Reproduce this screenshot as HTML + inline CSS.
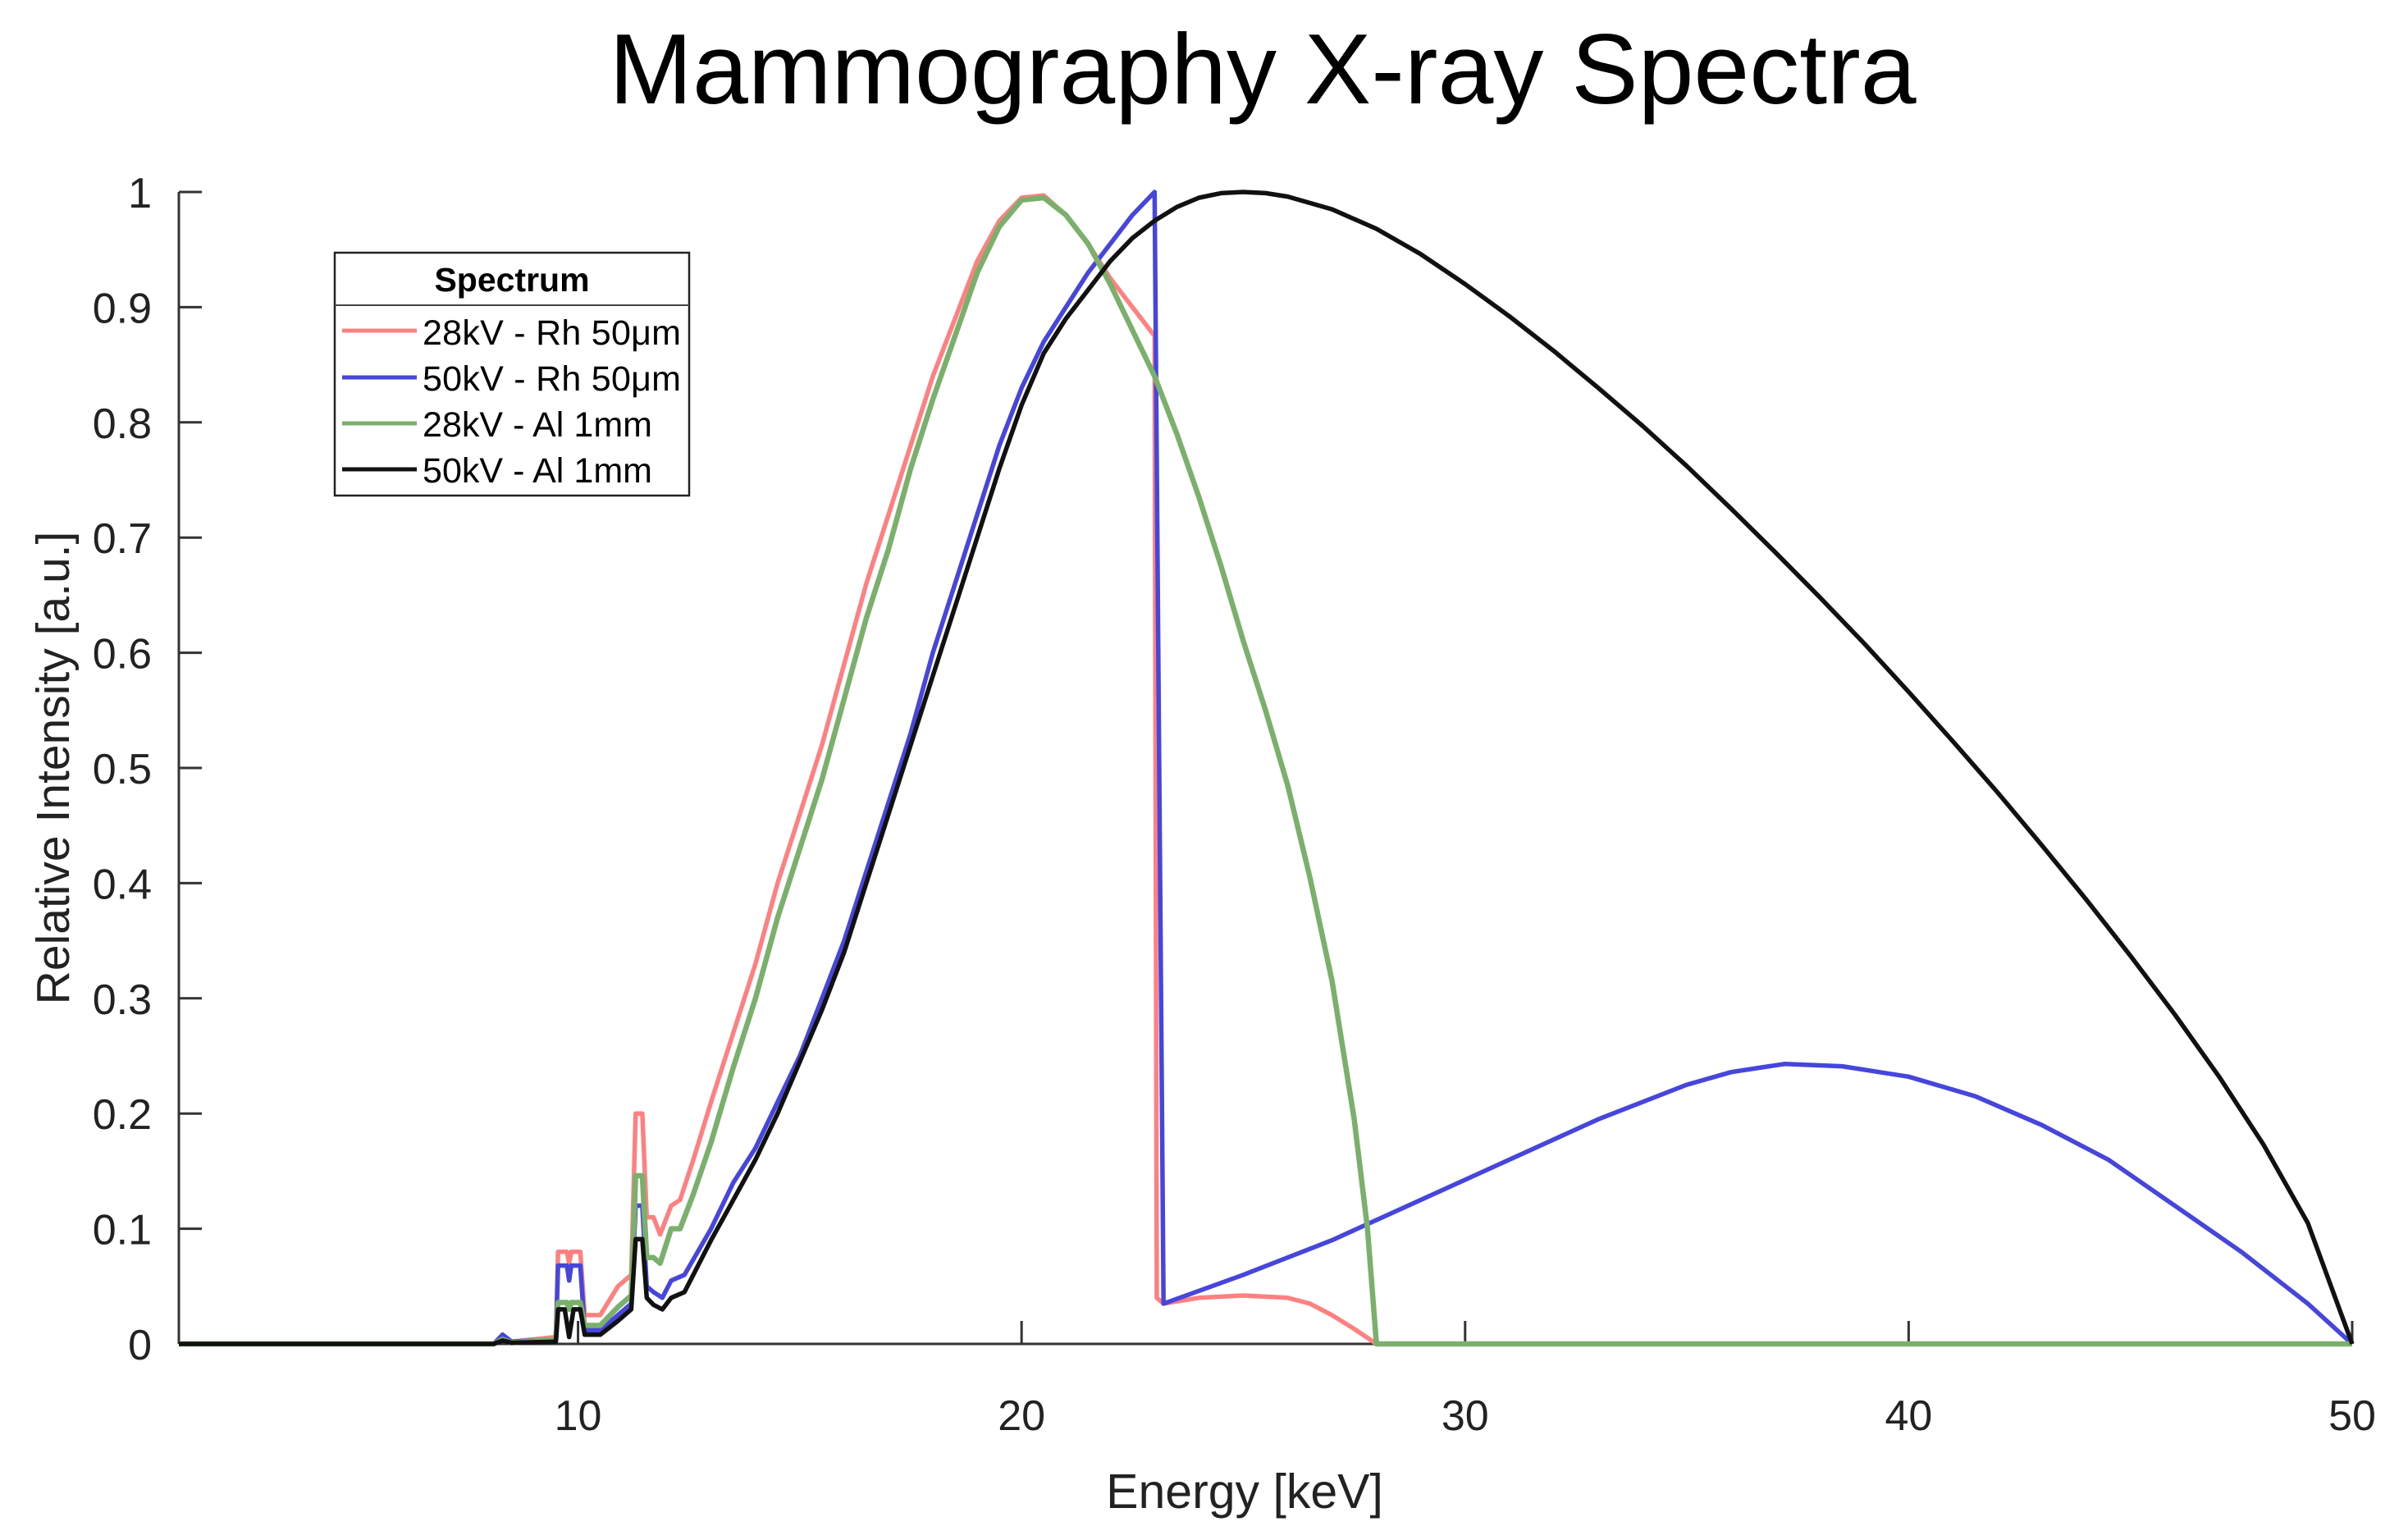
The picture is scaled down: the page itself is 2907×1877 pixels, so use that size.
<!DOCTYPE html>
<html><head><meta charset="utf-8"><style>
html,body{margin:0;padding:0;background:#fff;}
svg{display:block;font-family:"Liberation Sans",Arial,sans-serif;}
</style></head><body>
<svg id="chart" width="2907" height="1877" viewBox="0 0 2907 1877" xmlns="http://www.w3.org/2000/svg">
<text x="1539" y="126" font-size="122" text-anchor="middle" fill="#000">Mammography X-ray Spectra</text>
<g id="axes"></g>
<g id="series"></g>
<text x="1517" y="1838" font-size="59" text-anchor="middle" fill="#222">Energy [keV]</text>
<text transform="translate(84,936) rotate(-90)" font-size="57" text-anchor="middle" fill="#222">Relative Intensity [a.u.]</text>
<g>
<rect x="408" y="308" width="432" height="296" fill="#fff" stroke="#222" stroke-width="2.5"/>
<line x1="408" y1="372" x2="840" y2="372" stroke="#444" stroke-width="2"/>
<text x="624" y="355" font-size="41" font-weight="bold" text-anchor="middle">Spectrum</text>
<g><line x1="417" y1="403" x2="508" y2="403" stroke="#ff8080" stroke-width="5"/><text x="515" y="420" font-size="43" textLength="315">28kV - Rh 50μm</text></g>
<g><line x1="417" y1="460" x2="508" y2="460" stroke="#4646dc" stroke-width="5"/><text x="515" y="476" font-size="43" textLength="315">50kV - Rh 50μm</text></g>
<g><line x1="417" y1="516" x2="508" y2="516" stroke="#7ab06c" stroke-width="5"/><text x="515" y="532" font-size="43" textLength="280">28kV - Al 1mm</text></g>
<g><line x1="417" y1="572" x2="508" y2="572" stroke="#111" stroke-width="5"/><text x="515" y="588" font-size="43" textLength="280">50kV - Al 1mm</text></g>
</g>
</svg>
<script>
const xTicks = [10, 20, 30, 40, 50];
const yTicks = [0, 0.1, 0.2, 0.3, 0.4, 0.5, 0.6, 0.7, 0.8, 0.9, 1];
const yTickLabels = ["0","0.1","0.2","0.3","0.4","0.5","0.6","0.7","0.8","0.9","1"];

const redE = [1,8.1,8.3,8.5,9.5,9.55,9.75,9.8,9.85,10.05,10.15,10.5,10.9,11.2,11.3,11.45,11.55,11.7,11.85,12.1,12.3,12.6,13,13.5,14,14.5,15,15.5,16,16.5,17,17.5,18,18.5,19,19.5,20,20.5,21,21.5,22,22.5,23,23.05,23.2,24,25,26,26.5,27,27.5,28,50];
const redV = [0,0,0.008,0.002,0.006,0.08,0.08,0.07,0.08,0.08,0.025,0.025,0.05,0.06,0.2,0.2,0.11,0.11,0.095,0.12,0.125,0.16,0.21,0.27,0.33,0.4,0.46,0.52,0.59,0.66,0.72,0.78,0.84,0.89,0.94,0.975,0.995,0.997,0.98,0.955,0.925,0.9,0.875,0.04,0.035,0.04,0.042,0.04,0.035,0.025,0.013,0,0];

const blueE = [1,8.1,8.3,8.5,9.5,9.55,9.75,9.8,9.85,10.05,10.15,10.5,10.9,11.2,11.3,11.45,11.55,11.7,11.9,12.1,12.4,13,13.5,14,14.5,15,15.5,16,16.5,17,17.5,18,18.5,19,19.5,20,20.5,21,21.5,22,22.5,23,23.2,25,27,29,31,33,35,36,37.2,38.5,40,41.5,43,44.5,46,47.5,49,50];
const blueV = [0,0,0.008,0.002,0.004,0.068,0.068,0.055,0.068,0.068,0.012,0.012,0.025,0.035,0.12,0.12,0.05,0.045,0.04,0.055,0.06,0.1,0.14,0.17,0.21,0.25,0.3,0.35,0.41,0.47,0.53,0.6,0.66,0.72,0.78,0.83,0.87,0.9,0.93,0.955,0.98,1.0,0.035,0.06,0.09,0.125,0.16,0.195,0.225,0.236,0.243,0.241,0.232,0.215,0.19,0.16,0.12,0.08,0.035,0];

const greenE = [1,8.1,8.3,8.5,9.5,9.55,9.75,9.8,9.85,10.05,10.15,10.5,10.9,11.2,11.3,11.45,11.55,11.7,11.85,12.1,12.3,12.6,13,13.5,14,14.5,15,15.5,16,16.5,17,17.5,18,18.5,19,19.5,20,20.5,21,21.5,22,22.5,23,23.5,24,24.5,25,25.5,26,26.5,27,27.5,27.8,28,50];
const greenV = [0,0,0.004,0.001,0.004,0.036,0.036,0.03,0.036,0.036,0.016,0.016,0.032,0.042,0.146,0.146,0.075,0.075,0.07,0.1,0.1,0.13,0.175,0.24,0.3,0.37,0.43,0.49,0.56,0.63,0.69,0.76,0.82,0.875,0.93,0.97,0.993,0.995,0.98,0.955,0.92,0.88,0.84,0.79,0.735,0.675,0.61,0.55,0.485,0.405,0.315,0.195,0.1,0,0];

const blackE = [1,8.1,8.3,8.5,9.5,9.55,9.7,9.8,9.9,10.05,10.15,10.5,10.9,11.2,11.3,11.45,11.55,11.7,11.9,12.1,12.4,13,13.5,14,14.5,15,15.5,16,16.5,17,17.5,18,18.5,19,19.5,20,20.5,21,21.5,22,22.5,23,23.5,24,24.5,25,25.5,26,27,28,29,30,31,32,33,34,35,36,37,38,39,40,41,42,43,44,45,46,47,48,49,50];
const blackV = [0,0,0.003,0.001,0.002,0.03,0.03,0.006,0.03,0.03,0.008,0.008,0.02,0.03,0.091,0.091,0.04,0.034,0.03,0.04,0.045,0.09,0.125,0.16,0.2,0.245,0.29,0.34,0.4,0.46,0.52,0.58,0.64,0.7,0.76,0.815,0.86,0.89,0.915,0.94,0.96,0.975,0.987,0.995,0.999,1.0,0.999,0.996,0.985,0.968,0.946,0.92,0.892,0.862,0.83,0.797,0.762,0.725,0.687,0.648,0.608,0.566,0.523,0.479,0.433,0.386,0.337,0.286,0.232,0.173,0.105,0];

const X0 = 218, X1 = 2867, Y0 = 1638, Y1 = 234;
function xs(e){ return X0 + (e - 1) / (50 - 1) * (X1 - X0); }
function ys(v){ return Y0 - v * (Y0 - Y1); }
const NS = "http://www.w3.org/2000/svg";
const axes = document.getElementById('axes');
function mk(tag, attrs, parent){ const el = document.createElementNS(NS, tag); for (const k in attrs) el.setAttribute(k, attrs[k]); parent.appendChild(el); return el; }

let yAxis = mk('line', {x1:X0, y1:Y1, x2:X0, y2:Y0, stroke:'#333', 'stroke-width':3}, axes);


let xAxis = mk('line', {x1:X0, y1:Y0, x2:X1, y2:Y0, stroke:'#333', 'stroke-width':3}, axes);



yTicks.forEach((t, i) => {
  const y = ys(t);
  const tk = mk('line', {x1:X0, y1:y, x2:X0 + 28, y2:y, stroke:'#333', 'stroke-width':3}, axes);
  
  
  const lb = mk('text', {x:185, y:y + 19, 'font-size':52, 'text-anchor':'end', fill:'#222'}, axes);
  lb.textContent = yTickLabels[i];
  
  
});
xTicks.forEach(t => {
  const x = xs(t);
  const tk = mk('line', {x1:x, y1:Y0, x2:x, y2:Y0 - 28, stroke:'#333', 'stroke-width':3}, axes);
  
  
  const lb = mk('text', {x:x, y:1743, 'font-size':52, 'text-anchor':'middle', fill:'#222'}, axes);
  lb.textContent = String(t);
  
  
});

const seriesG = document.getElementById('series');
function drawSeries(E, V, color, w, name){
  const d = E.map((e, i) => (i ? 'L' : 'M') + xs(e).toFixed(1) + ' ' + ys(V[i]).toFixed(1)).join(' ');
  const p = mk('path', {d:d, fill:'none', stroke:color, 'stroke-width':w, 'stroke-linejoin':'round'}, seriesG);
  
  
}
drawSeries(redE, redV, '#ff8080', 5.5, 'series-28kv-rh');
drawSeries(blueE, blueV, '#4646dc', 5.5, 'series-50kv-rh');
drawSeries(greenE, greenV, '#7ab06c', 6.5, 'series-28kv-al');
drawSeries(blackE, blackV, '#111111', 5.5, 'series-50kv-al');
</script>
</body></html>
